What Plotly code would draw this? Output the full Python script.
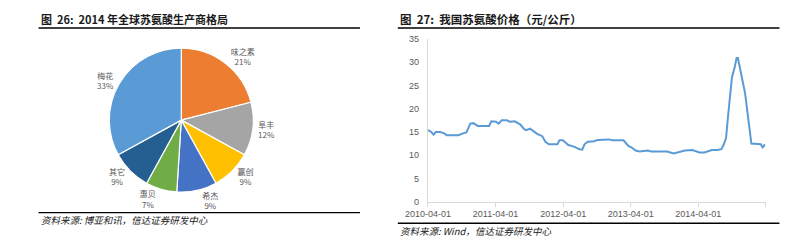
import plotly.graph_objects as go

W, H = 794, 246

# ---------------- Data ----------------
producers = ["味之素", "阜丰", "赢创", "希杰", "惠贝", "其它", "梅花"]
shares = [21, 12, 9, 9, 7, 9, 33]
pie_colors = ["#ED7D31", "#A5A5A5", "#FFC000", "#4472C4", "#70AD47", "#255E91", "#5B9BD5"]

dates = [
    "2010-04-01", "2010-04-19", "2010-05-02", "2010-05-13", "2010-06-06", "2010-06-28",
    "2010-07-12", "2010-09-12", "2010-10-08", "2010-10-26", "2010-11-16", "2010-12-03",
    "2010-12-26", "2011-02-25", "2011-03-10", "2011-04-04", "2011-04-18", "2011-05-05",
    "2011-06-01", "2011-06-18", "2011-07-14", "2011-08-14", "2011-09-01", "2011-09-13",
    "2011-10-05", "2011-11-12", "2011-12-10", "2011-12-27", "2012-01-14", "2012-03-01",
    "2012-03-12", "2012-03-30", "2012-04-29", "2012-05-25", "2012-06-29", "2012-07-13",
    "2012-07-25", "2012-08-12", "2012-09-16", "2012-10-04", "2012-12-04", "2012-12-22",
    "2013-02-21", "2013-03-19", "2013-04-06", "2013-04-27", "2013-05-19", "2013-07-02",
    "2013-07-20", "2013-10-15", "2013-11-19", "2013-12-15", "2014-01-19", "2014-02-28",
    "2014-03-21", "2014-04-08", "2014-05-04", "2014-05-22", "2014-06-13", "2014-07-13",
    "2014-08-04", "2014-08-17", "2014-08-29", "2014-09-09", "2014-09-21", "2014-09-30",
    "2014-10-14", "2014-10-25", "2014-11-01", "2014-11-08", "2014-11-22", "2014-12-10",
    "2014-12-27", "2015-01-13", "2015-03-05", "2015-03-14", "2015-03-22", "2015-03-26",
]
prices = [
    15.4, 15.0, 14.4, 15.0, 15.0, 14.7,
    14.3, 14.3, 14.7, 14.9, 16.8, 16.9,
    16.3, 16.3, 17.3, 17.2, 16.8, 17.5,
    17.5, 17.2, 17.3, 16.6, 15.7, 15.4,
    15.7, 14.6, 14.1, 12.9, 12.35, 12.35,
    13.2, 13.2, 12.2, 11.9, 11.3, 11.2,
    12.35, 12.9, 13.0, 13.3, 13.4, 13.2,
    13.2, 12.0, 11.65, 11.0, 10.8, 11.0,
    10.8, 10.8, 10.4, 10.6, 11.0, 11.1,
    10.85, 10.6, 10.6, 10.85, 11.1, 11.1,
    11.3, 12.35, 13.7, 18.5, 24.0, 26.8,
    28.8, 30.9, 30.9, 29.6, 26.8, 23.3,
    17.8, 12.5, 12.35, 11.7, 12.0, 12.35,
]

year_ticks = ["2010-04-01", "2011-04-01", "2012-04-01", "2013-04-01", "2014-04-01", "2015-04-01"]
year_labels = ["2010-04-01", "2011-04-01", "2012-04-01", "2013-04-01", "2014-04-01", ""]
y_ticks = [0, 5, 10, 15, 20, 25, 30, 35]

# ---------------- Helpers ----------------
def px_x(x):
    return x / W

def px_y(y):
    return 1 - y / H

CJK = "Noto Sans CJK SC"
GRAY = "#595959"

fig = go.Figure()

fig.add_trace(go.Pie(
    labels=producers,
    values=shares,
    sort=False,
    direction="clockwise",
    rotation=0,
    marker=dict(colors=pie_colors, line=dict(color="white", width=1.2)),
    texttemplate="%{label}<br>%{value}%",
    textposition="outside",
    textfont=dict(family=CJK, size=8, color=GRAY),
    domain=dict(x=[px_x(87), px_x(239)], y=[px_y(195), px_y(45)]),
    showlegend=False,
    hoverinfo="label+value",
))

fig.add_trace(go.Scatter(
    x=dates, y=prices, mode="lines",
    line=dict(color="#5B9BD5", width=2),
    showlegend=False,
    xaxis="x", yaxis="y",
))

fig.update_layout(
    width=W, height=H,
    margin=dict(l=0, r=0, t=0, b=0),
    paper_bgcolor="white",
    plot_bgcolor="white",
    font=dict(family=CJK, color=GRAY),
    xaxis=dict(
        domain=[px_x(417), px_x(765)],
        anchor="y",
        type="date",
        range=["2010-04-01", "2015-04-01"],
        tickvals=year_ticks,
        ticktext=year_labels,
        ticks="outside", ticklen=4, tickcolor="#D9D9D9",
        showline=True, linecolor="#D9D9D9", linewidth=1,
        showgrid=False, zeroline=False,
        tickfont=dict(family="Liberation Sans", size=9, color=GRAY),
    ),
    yaxis=dict(
        domain=[px_y(205), px_y(35.5)],
        anchor="x",
        range=[0, 35],
        tickvals=y_ticks,
        showline=True, linecolor="#D9D9D9", linewidth=1,
        showgrid=False, zeroline=False,
        ticks="", ticklabelstandoff=6,
        tickfont=dict(family="Liberation Sans", size=9, color=GRAY),
    ),
)

annotations = [
    dict(text="<b>图  26:  2014 年全球苏氨酸生产商格局</b>", x=px_x(16), y=px_y(15),
         xanchor="left", yanchor="middle", font=dict(family=CJK, size=11, color="#1a1a1a")),
    dict(text="<b>图  27:  我国苏氨酸价格（元/公斤）</b>", x=px_x(386), y=px_y(15),
         xanchor="left", yanchor="middle", font=dict(family=CJK, size=11.5, color="#1a1a1a")),
    dict(text="<i>资料来源: 博亚和讯，信达证券研发中心</i>", x=px_x(16), y=px_y(224),
         xanchor="left", yanchor="middle", font=dict(family=CJK, size=9.5, color="#1a1a1a")),
    dict(text="<i>资料来源: Wind，信达证券研发中心</i>", x=px_x(386), y=px_y(236),
         xanchor="left", yanchor="middle", font=dict(family=CJK, size=9.5, color="#1a1a1a")),
]
for a in annotations:
    a.update(xref="paper", yref="paper", showarrow=False)
fig.update_layout(annotations=annotations)

shapes = []
for (x0, x1, y) in [(16, 347, 24), (16, 347, 216.5), (386, 779, 24), (386, 779, 227.5)]:
    shapes.append(dict(type="line", xref="paper", yref="paper",
                       x0=px_x(x0), x1=px_x(x1), y0=px_y(y), y1=px_y(y),
                       line=dict(color="black", width=1.3)))
fig.update_layout(shapes=shapes)

fig.write_html("out.html")
